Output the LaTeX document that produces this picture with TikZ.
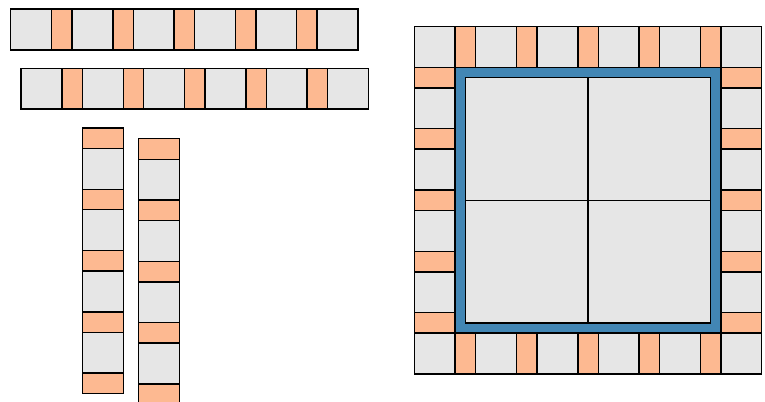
\documentclass[tikz,border=0pt]{standalone}
\usepackage{tikz}
\definecolor{cellgray}{RGB}{230,230,230}
\definecolor{padorange}{RGB}{253,185,145}
\definecolor{ringblue}{RGB}{66,134,180}
\tikzset{cell/.style={draw=black,fill=cellgray,line width=1pt},
         pad/.style={draw=black,fill=padorange,line width=1pt}}
% strip lying flat: 6 cells, 5 pads, left corner at (#1,#2)
\newcommand\rowstrip[2]{%
  \foreach \i in {0,...,5} \draw[cell] ({#1+3*\i},#2) rectangle ++(2,2);
  \foreach \i in {0,...,4} \draw[pad] ({#1+3*\i+2},#2) rectangle ++(1,2);}
% standing strip with cells at both ends
\newcommand\colstrip[2]{%
  \foreach \i in {0,...,5} \draw[cell] (#1,{#2+3*\i}) rectangle ++(2,2);
  \foreach \i in {0,...,4} \draw[pad] (#1,{#2+3*\i+2}) rectangle ++(2,1);}
% standing strip with pads at both ends
\newcommand\padstrip[2]{%
  \foreach \i in {0,...,3} \draw[cell] (#1,{#2+3*\i+1}) rectangle ++(2,2);
  \foreach \i in {0,...,4} \draw[pad] (#1,{#2+3*\i}) rectangle ++(2,1);}
\begin{document}
\begin{tikzpicture}[x=0.5cm,y=-0.5cm]
  \useasboundingbox (0,0) rectangle (37.43,19.62);
  % loose strips
  \rowstrip{0.52}{0.44}
  \rowstrip{1.03}{3.34}
  \padstrip{4.03}{6.26}
  \padstrip{6.77}{6.79}
  % frame of strips
  \rowstrip{20.27}{1.30}
  \rowstrip{20.27}{16.30}
  \colstrip{20.27}{1.30}
  \colstrip{35.27}{1.30}
  % ring and core
  \draw[fill=ringblue,even odd rule,line width=1pt]
    (22.27,3.30) rectangle (35.27,16.30) (22.77,3.80) rectangle (34.77,15.80);
  \foreach \a in {0,6}
    \foreach \b in {0,6}
      \draw[cell] ({22.77+\a},{3.80+\b}) rectangle ++(6,6);
\end{tikzpicture}
\end{document}
